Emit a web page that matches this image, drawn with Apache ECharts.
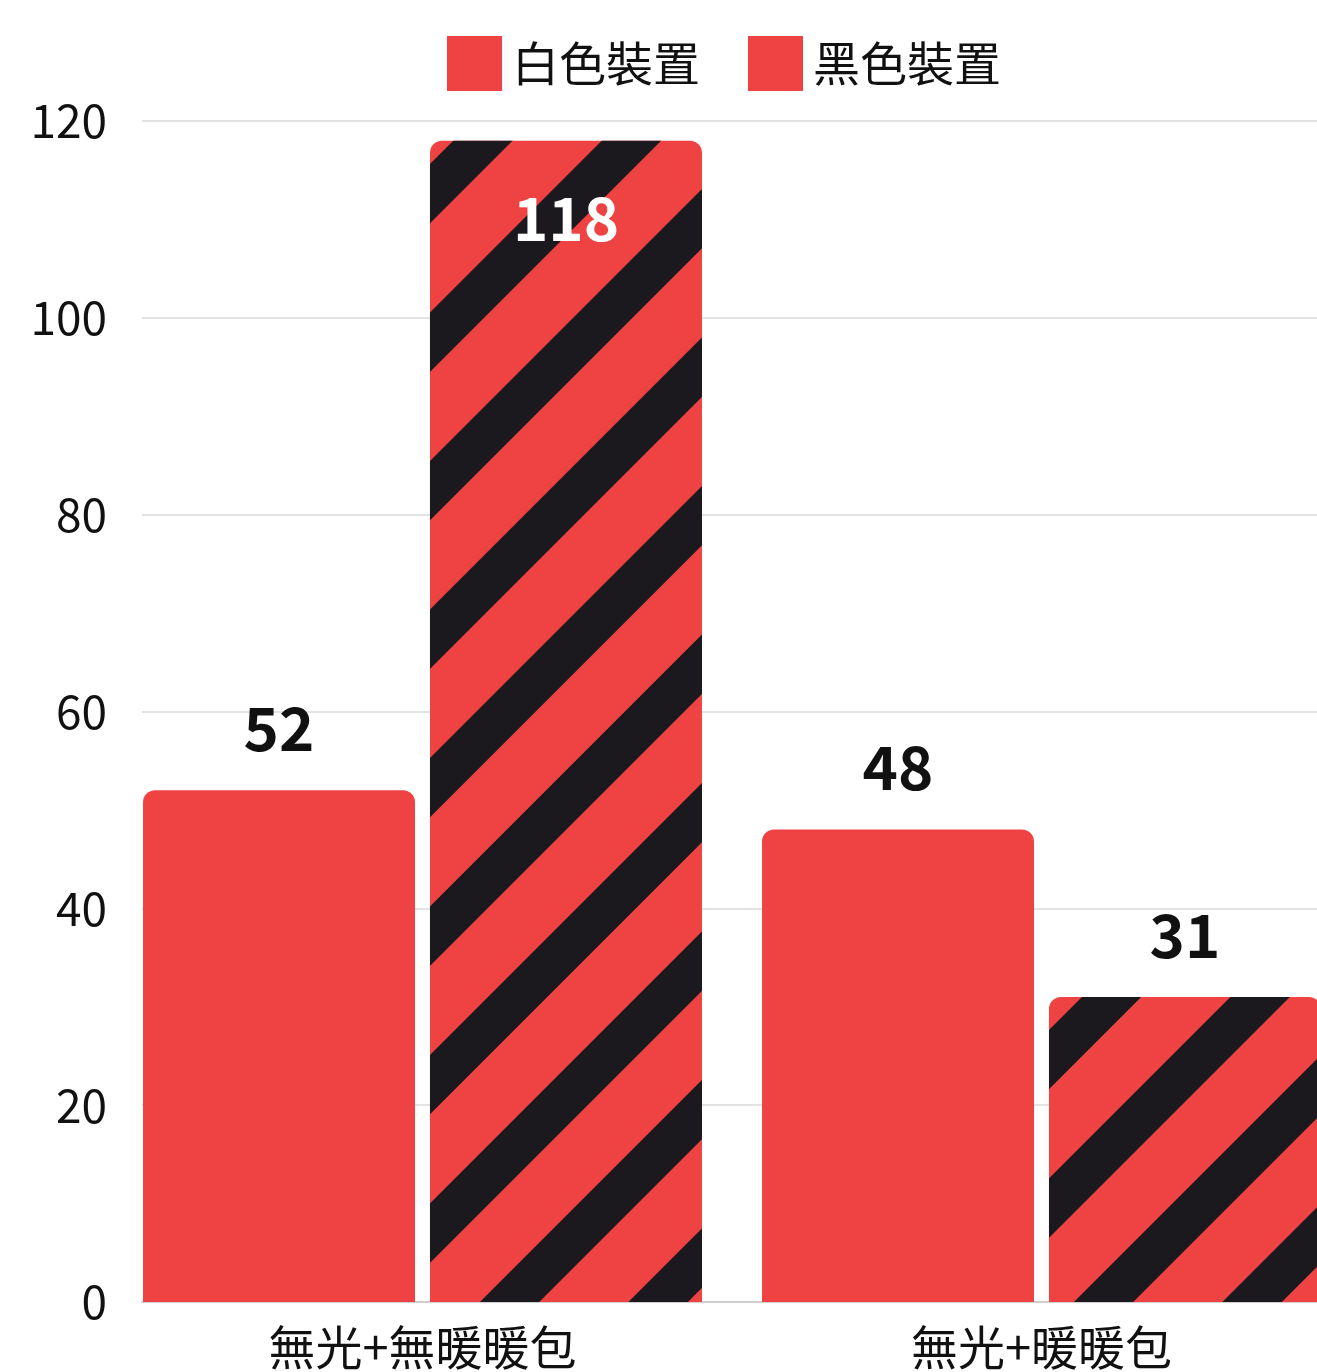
<!DOCTYPE html>
<html>
<head>
<meta charset="utf-8">
<script src="https://cdn.jsdelivr.net/npm/echarts@6/dist/echarts.min.js"></script>
<style>
html,body{margin:0;padding:0;background:#fff;overflow:hidden;width:1317px;height:1372px;}
#chart{width:1400px;height:1372px;}
</style>
</head>
<body>
<div id="chart"></div>
<script>
const categories = ['無光+無暖暖包', '無光+暖暖包'];
const seriesNames = ['白色裝置', '黑色裝置'];
const whiteDevice = [52, 48];
const blackDevice = [118, 31];
const yTicks = [0, 20, 40, 60, 80, 100, 120];

const RED = '#ef4343';
const DARK = '#1b191e';
const FONT = '"Noto Sans CJK TC", "Noto Sans", sans-serif';

const chart = echarts.init(document.getElementById('chart'), null, {renderer: 'canvas'});
chart.setOption({
  animation: false,
  backgroundColor: '#fff',
  textStyle: {fontFamily: FONT},
  legend: {
    left: 442, top: 31,
    itemWidth: 55, itemHeight: 55, itemGap: 48,
    icon: 'rect',
    textStyle: {fontSize: 47, color: '#111', fontFamily: FONT, padding: [0, 0, 0, 5]},
    data: [
      {name: seriesNames[0]},
      {name: seriesNames[1], itemStyle: {decal: 'none'}}
    ]
  },
  grid: [
    {left: 113, top: 121, width: 1238, height: 1181, containLabel: false},
    {left: 142, top: 121, width: 1238, height: 1181, containLabel: false}
  ],
  xAxis: [
    {
      gridIndex: 0, type: 'category', data: categories,
      axisLine: {show: false}, axisTick: {show: false},
      axisLabel: {fontSize: 47, color: '#111', margin: 22, fontFamily: FONT}
    },
    {
      gridIndex: 1, type: 'value', min: 0, max: 1,
      axisLine: {show: true, lineStyle: {color: '#cfcfcf', width: 2}},
      axisTick: {show: false}, axisLabel: {show: false}, splitLine: {show: false}
    }
  ],
  yAxis: [
    {gridIndex: 0, type: 'value', min: yTicks[0], max: yTicks[yTicks.length - 1], interval: 20, show: false},
    {
      gridIndex: 1, type: 'value', min: yTicks[0], max: yTicks[yTicks.length - 1], interval: 20,
      axisLine: {show: false}, axisTick: {show: false},
      axisLabel: {fontSize: 46, color: '#111', margin: 35, fontFamily: FONT},
      splitLine: {show: true, lineStyle: {color: '#e3e3e3', width: 2}}
    }
  ],
  series: [
    {
      name: seriesNames[0], type: 'bar', xAxisIndex: 0, yAxisIndex: 0,
      data: whiteDevice,
      barWidth: 272, barGap: '5.5%',
      itemStyle: {color: RED, borderRadius: [12, 12, 0, 0]},
      label: {show: true, position: 'top', distance: 32, fontSize: 60, fontWeight: 'bold', color: '#111', fontFamily: FONT},
      z: 3
    },
    {
      name: seriesNames[1], type: 'bar', xAxisIndex: 0, yAxisIndex: 0,
      data: blackDevice.map(function (v, i) {
        return i === 0
          ? {value: v, label: {position: 'insideTop', distance: 48, color: '#fff'}}
          : {value: v};
      }),
      barWidth: 272, barGap: '5.5%',
      itemStyle: {
        color: RED, borderRadius: [12, 12, 0, 0],
        decal: {
          symbol: 'rect', symbolSize: 1,
          color: DARK,
          dashArrayX: [1, 0],
          dashArrayY: [42, 63],
          rotation: -Math.PI / 4
        }
      },
      label: {show: true, position: 'top', distance: 32, fontSize: 60, fontWeight: 'bold', color: '#111', fontFamily: FONT},
      z: 3
    }
  ]
});
</script>
</body>
</html>
